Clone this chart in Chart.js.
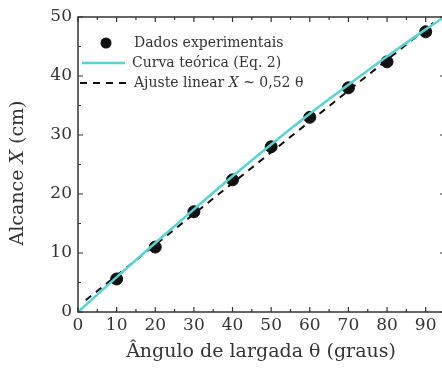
<!DOCTYPE html>
<html>
<head>
<meta charset="utf-8">
<script src="https://cdn.jsdelivr.net/npm/chart.js@4/dist/chart.umd.min.js"></script>
<style>
  html, body { margin: 0; padding: 0; background: #fff; overflow: hidden; }
  #box { width: 452px; height: 375px; }
</style>
</head>
<body>
<div id="box"><canvas id="grafico" width="452" height="375"></canvas></div>
<script>
// dados
const angulos = [10, 20, 30, 40, 50, 60, 70, 80, 90];
const alcances = [5.6, 11, 17, 22.4, 28, 33, 38, 42.4, 47.5];

// curva teórica (Eq. 2)
const angTeo = [0, 10, 20, 30, 40, 50, 60, 70, 80, 90, 95];
const alcTeo = [0, 5.9, 11.7, 17.4, 23.0, 28.4, 33.6, 38.5, 43.3, 47.9, 50.1];

// ajuste linear
const angAjuste = [2, 92];
const alcAjuste = [2.0, 49.0];

const ticksX = [0, 10, 20, 30, 40, 50, 60, 70, 80, 90];
const ticksY = [0, 10, 20, 30, 40, 50];

const fonte = '"DejaVu Serif", serif';
const corEixo = '#333';

function pares(xs, ys) {
    return xs.map((x, i) => ({ x: x, y: ys[i] }));
}

// mede e desenha um texto com pedaços em itálico
function larguraMista(ctx, partes, tam) {
    let w = 0;
    partes.forEach(p => {
        ctx.font = (p.it ? 'italic ' : '') + tam + 'px ' + fonte;
        w += ctx.measureText(p.t).width;
    });
    return w;
}
function escreveMisto(ctx, partes, x, y, tam) {
    partes.forEach(p => {
        ctx.font = (p.it ? 'italic ' : '') + tam + 'px ' + fonte;
        ctx.fillText(p.t, x, y);
        x += ctx.measureText(p.t).width;
    });
}

// moldura, ticks para dentro, títulos e legenda
const moldura = {
    id: 'moldura',
    afterDraw(chart) {
        const ctx = chart.ctx;
        const a = chart.chartArea;
        const sx = chart.scales.x, sy = chart.scales.y;
        ctx.save();
        ctx.strokeStyle = corEixo;
        ctx.lineWidth = 1.5;
        ctx.strokeRect(a.left, a.top, a.right - a.left, a.bottom - a.top);

        ctx.lineWidth = 1.2;
        ctx.beginPath();
        for (let v = 0; v <= 95; v += 5) {
            const px = sx.getPixelForValue(v);
            const L = v % 10 === 0 ? 5 : 3;
            ctx.moveTo(px, a.bottom); ctx.lineTo(px, a.bottom - L);
            ctx.moveTo(px, a.top); ctx.lineTo(px, a.top + L);
        }
        for (let v = 0; v <= 50; v += 5) {
            const py = sy.getPixelForValue(v);
            const L = v % 10 === 0 ? 5 : 3;
            ctx.moveTo(a.left, py); ctx.lineTo(a.left + L, py);
            ctx.moveTo(a.right, py); ctx.lineTo(a.right - L, py);
        }
        ctx.stroke();

        // títulos dos eixos
        ctx.fillStyle = corEixo;
        ctx.textBaseline = 'middle';
        ctx.textAlign = 'center';
        ctx.font = '19px ' + fonte;
        ctx.fillText('Ângulo de largada θ (graus)', 261, 352);

        const tituloY = [{ t: 'Alcance ' }, { t: 'X', it: true }, { t: ' (cm)' }];
        ctx.save();
        ctx.translate(18, 173);
        ctx.rotate(-Math.PI / 2);
        ctx.textAlign = 'left';
        const wy = larguraMista(ctx, tituloY, 19);
        escreveMisto(ctx, tituloY, -wy / 2, 0, 19);
        ctx.restore();

        // legenda
        const ds = chart.data.datasets;
        ctx.textAlign = 'left';
        ctx.fillStyle = ds[0].backgroundColor;
        ctx.beginPath();
        ctx.arc(106, 43, 5.5, 0, Math.PI * 2);
        ctx.fill();

        ctx.strokeStyle = ds[1].borderColor;
        ctx.lineWidth = ds[1].borderWidth;
        ctx.setLineDash([]);
        ctx.beginPath(); ctx.moveTo(82, 63); ctx.lineTo(125, 63); ctx.stroke();

        ctx.strokeStyle = ds[2].borderColor;
        ctx.lineWidth = ds[2].borderWidth;
        ctx.setLineDash(ds[2].borderDash);
        ctx.beginPath(); ctx.moveTo(80, 83); ctx.lineTo(127, 83); ctx.stroke();
        ctx.setLineDash([]);

        ctx.fillStyle = corEixo;
        ctx.font = '14px ' + fonte;
        ctx.fillText(ds[0].label, 134, 43);
        ctx.fillText(ds[1].label, 132, 63);
        escreveMisto(ctx, [{ t: 'Ajuste linear ' }, { t: 'X', it: true }, { t: ' ~ 0,52 θ' }], 134, 83, 14);
        ctx.restore();
    }
};

new Chart(document.getElementById('grafico').getContext('2d'), {
    type: 'scatter',
    data: {
        datasets: [
            {
                label: 'Dados experimentais',
                data: pares(angulos, alcances),
                backgroundColor: '#111',
                borderColor: '#111',
                pointRadius: 6,
                pointHoverRadius: 6,
                order: 2
            },
            {
                label: 'Curva teórica (Eq. 2)',
                data: pares(angTeo, alcTeo),
                showLine: true,
                borderColor: '#55d4d0',
                borderWidth: 2.5,
                pointRadius: 0,
                cubicInterpolationMode: 'monotone',
                order: 0
            },
            {
                label: 'Ajuste linear X ~ 0,52 θ',
                data: pares(angAjuste, alcAjuste),
                showLine: true,
                borderColor: '#111',
                borderWidth: 2,
                borderDash: [7, 6],
                pointRadius: 0,
                order: 1
            }
        ]
    },
    options: {
        responsive: false,
        animation: false,
        devicePixelRatio: 1,
        layout: { padding: { top: 17, right: 2, left: 0, bottom: 0 } },
        plugins: {
            legend: { display: false },
            tooltip: { enabled: false }
        },
        scales: {
            x: {
                type: 'linear',
                min: 0,
                max: 95,
                grid: { display: false, drawTicks: false },
                border: { display: false },
                afterBuildTicks: s => { s.ticks = ticksX.map(v => ({ value: v })); },
                afterFit: s => { s.height = 63; s.paddingLeft = 0; s.paddingRight = 0; },
                ticks: { color: corEixo, font: { family: fonte, size: 17 }, padding: 3, maxRotation: 0, autoSkip: false }
            },
            y: {
                min: 0,
                max: 50,
                grid: { display: false, drawTicks: false },
                border: { display: false },
                afterBuildTicks: s => { s.ticks = ticksY.map(v => ({ value: v })); },
                afterFit: s => { s.width = 78; s.paddingTop = 0; s.paddingBottom = 0; },
                ticks: { color: corEixo, font: { family: fonte, size: 17 }, padding: 6 }
            }
        }
    },
    plugins: [moldura]
});
</script>
</body>
</html>
